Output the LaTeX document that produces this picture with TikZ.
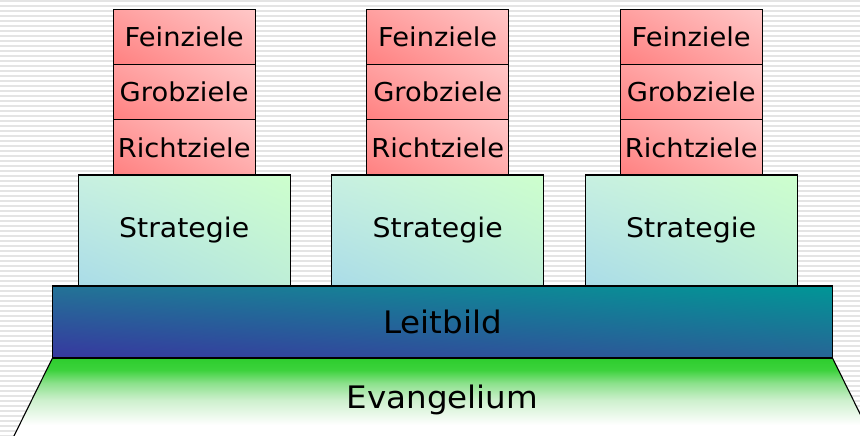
\documentclass[tikz,border=0pt]{standalone}
\usepackage{fontspec}
\setmainfont{DejaVu Sans}[FakeStretch=1.05]
\usetikzlibrary{shadings}
\definecolor{gUL}{RGB}{255,160,160}
\definecolor{gUR}{RGB}{255,200,200}
\definecolor{gLL}{RGB}{255,128,128}
\definecolor{gLR}{RGB}{255,170,170}
\definecolor{sUL}{RGB}{200,240,225}
\definecolor{sUR}{RGB}{205,255,205}
\definecolor{sLL}{RGB}{170,220,232}
\definecolor{sLR}{RGB}{190,238,215}
\definecolor{lUL}{RGB}{35,115,150}
\definecolor{lUR}{RGB}{0,150,150}
\definecolor{lLL}{RGB}{55,55,160}
\definecolor{lLR}{RGB}{40,100,150}
\definecolor{eTop}{RGB}{45,205,45}
\definecolor{eA}{RGB}{60,210,60}
\definecolor{eB}{RGB}{140,225,140}
\definecolor{eC}{RGB}{205,240,205}
\definecolor{stripegray}{RGB}{228,228,228}
\pgfdeclareverticalshading{evangshade}{100bp}{color(0bp)=(white); color(35bp)=(white); color(50bp)=(eC); color(60bp)=(eB); color(68bp)=(eA); color(75bp)=(eTop); color(100bp)=(eTop)}
\begin{document}
\begin{tikzpicture}[x=1pt,y=-1pt,
  goal/.style={draw=black, line width=1.1pt, minimum width=142pt, minimum height=55.2pt, inner sep=0pt,
    font=\fontsize{26}{30}\selectfont,
    upper left=gUL, upper right=gUR, lower left=gLL, lower right=gLR},
  strat/.style={draw=black, line width=1.1pt, minimum width=212pt, minimum height=111pt, inner sep=0pt,
    font=\fontsize{27}{30}\selectfont,
    upper left=sUL, upper right=sUR, lower left=sLL, lower right=sLR},
  leit/.style={draw=black, line width=1.1pt, minimum width=780pt, minimum height=72pt, inner sep=0pt,
    font=\fontsize{31}{36}\selectfont,
    upper left=lUL, upper right=lUR, lower left=lLL, lower right=lLR},
  stripe/.style={fill=stripegray},
  lbl/.style={font=\fontsize{31}{36}\selectfont, inner sep=0pt}
]
\useasboundingbox (0,0) rectangle (860,436);
\clip (0,0) rectangle (860,436);
\fill[white] (0,0) rectangle (860,436);
\foreach \yy in {0,5,...,435} { \fill[stripe] (0,\yy) rectangle (860,\yy+2); }

% Evangelium base
\shade[shading=evangshade]
  (52.5,358) -- (832.5,358) -- (874,442) -- (11,442) -- cycle;
\draw[line width=1.1pt] (52.5,358) -- (11,442);
\draw[line width=1.1pt] (832.5,358) -- (874,442);
\node[lbl] (evang) at (442.5,400) {Evangelium};

% Leitbild
\node[leit] (leitbild) at (442.5,322) {Leitbild};

% Strategy boxes
\node[strat] (s1) at (184.2,230.5) {Strategie};
\node[strat] (s2) at (437.7,230.5) {Strategie};
\node[strat] (s3) at (691.2,230.5) {Strategie};

% Goal stacks
\foreach \c/\xx in {1/184.2, 2/437.7, 3/691.2} {
  \node[goal] (r\c) at (\xx,147.4) {Richtziele};
  \node[goal] (g\c) at (\xx,92.3) {Grobziele};
  \node[goal] (f\c) at (\xx,37.1) {Feinziele};
}
\end{tikzpicture}
\end{document}
